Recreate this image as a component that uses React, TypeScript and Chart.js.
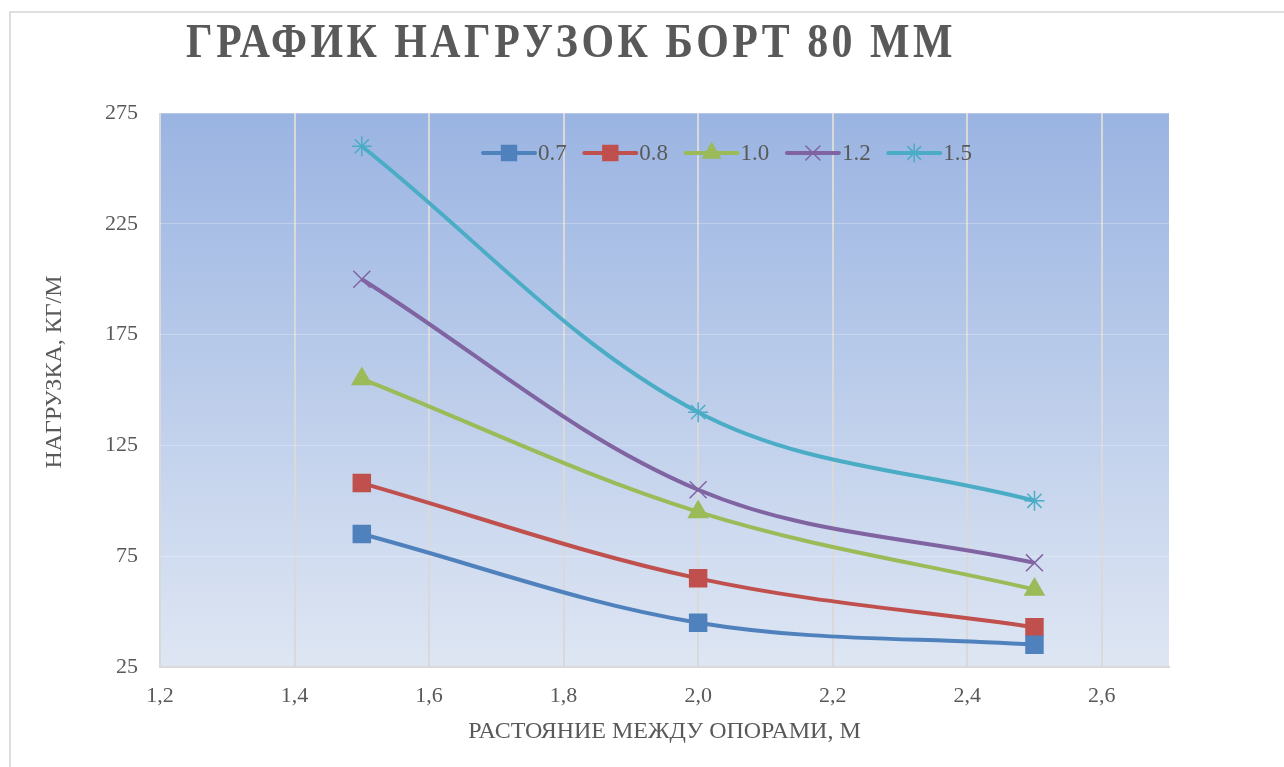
import React, { useEffect, useRef } from 'react';
import { Chart, registerables } from 'chart.js';
import { drawPoint } from 'chart.js/helpers';

Chart.register(...registerables);

// data
const distances = [1.5, 2.0, 2.5];
const seriesLabels = ['0.7', '0.8', '1.0', '1.2', '1.5'];
const load07 = [85, 45, 35];
const load08 = [108, 65, 43];
const load10 = [155, 95, 60];
const load12 = [200, 105, 72];
const load15 = [260, 140, 100];
const xTicks = [1.2, 1.4, 1.6, 1.8, 2.0, 2.2, 2.4, 2.6];
const yTicks = [25, 75, 125, 175, 225, 275];

const TITLE = 'ГРАФИК НАГРУЗОК БОРТ 80 ММ';
const X_TITLE = 'РАСТОЯНИЕ МЕЖДУ ОПОРАМИ, М';
const Y_TITLE = 'НАГРУЗКА, КГ/М';

const SERIF = "'Liberation Serif', 'Times New Roman', serif";
const TEXT = '#595959';

const seriesStyles = [
  { color: '#4f81bd', pointStyle: 'rect', radius: 12, legendRadius: 10.5 },
  { color: '#c0504d', pointStyle: 'rect', radius: 12, legendRadius: 10.5 },
  { color: '#9bbb59', pointStyle: 'triangle', radius: 11, legendRadius: 10 },
  { color: '#8064a2', pointStyle: 'crossRot', radius: 12, legendRadius: 10 },
  { color: '#4bacc6', pointStyle: 'star', radius: 10, legendRadius: 9 },
];

const toPoints = (ys: number[]) => ys.map((y, i) => ({ x: distances[i], y }));

// gradient fill of the plot area
const plotBackground = {
  id: 'plotBackground',
  beforeDraw(chart: any) {
    const { ctx, chartArea: a } = chart;
    const g = ctx.createLinearGradient(0, a.top, 0, a.bottom);
    g.addColorStop(0, '#9ab4e2');
    g.addColorStop(1, '#dee6f3');
    ctx.save();
    ctx.fillStyle = g;
    ctx.fillRect(a.left, a.top, a.right - a.left, a.bottom - a.top);
    ctx.restore();
  },
};

// chart title and axis titles
const titles = {
  id: 'titles',
  afterDraw(chart: any) {
    const { ctx, chartArea: a } = chart;
    ctx.save();
    ctx.fillStyle = TEXT;

    // main title, condensed and spaced like the original
    ctx.font = `bold 48px ${SERIF}`;
    (ctx as any).letterSpacing = '4px';
    const w = ctx.measureText(TITLE).width;
    const target = 770;
    ctx.translate(186, 57);
    ctx.scale(target / w, 1);
    ctx.textAlign = 'left';
    ctx.textBaseline = 'alphabetic';
    ctx.fillText(TITLE, 0, 0);
    ctx.restore();

    ctx.save();
    ctx.fillStyle = TEXT;
    ctx.font = `24px ${SERIF}`;
    ctx.textAlign = 'center';
    ctx.textBaseline = 'middle';
    ctx.fillText(X_TITLE, (a.left + a.right) / 2, a.bottom + 65);
    ctx.translate(55, 372);
    ctx.rotate(-Math.PI / 2);
    ctx.fillText(Y_TITLE, 0, 0);
    ctx.restore();
  },
};

// legend drawn inside the plot: short line with the marker in the middle
const insideLegend = {
  id: 'insideLegend',
  afterDatasetsDraw(chart: any) {
    const { ctx, chartArea: a } = chart;
    const startX = a.left + 323;
    const y = a.top + 40;
    const step = 101.3;
    ctx.save();
    chart.data.datasets.forEach((ds: any, i: number) => {
      const st = seriesStyles[i];
      const x0 = startX + i * step;
      ctx.strokeStyle = st.color;
      ctx.lineWidth = 4;
      ctx.lineCap = 'round';
      ctx.beginPath();
      ctx.moveTo(x0, y);
      ctx.lineTo(x0 + 52, y);
      ctx.stroke();
      ctx.fillStyle = st.color;
      ctx.lineWidth = 1.5;
      drawPoint(ctx, { pointStyle: st.pointStyle as any, radius: st.legendRadius, rotation: 0, borderWidth: 1.5 }, x0 + 26, y);
      ctx.fillStyle = TEXT;
      ctx.font = `23px ${SERIF}`;
      ctx.textAlign = 'left';
      ctx.textBaseline = 'middle';
      ctx.fillText(ds.label, x0 + 55, y + 1);
    });
    ctx.restore();
  },
};

const App: React.FC = () => {
  const canvasRef = useRef<HTMLCanvasElement | null>(null);

  useEffect(() => {
    if (!canvasRef.current) return;
    const series = [load07, load08, load10, load12, load15];

    const chart = new Chart(canvasRef.current, {
      type: 'line',
      data: {
        datasets: series.map((ys, i) => ({
          label: seriesLabels[i],
          data: toPoints(ys),
          borderColor: seriesStyles[i].color,
          backgroundColor: seriesStyles[i].color,
          borderWidth: 4,
          tension: 0.35,
          pointStyle: seriesStyles[i].pointStyle as any,
          pointRadius: seriesStyles[i].radius,
          pointBorderWidth: 1.5,
          pointBorderColor: seriesStyles[i].color,
          pointBackgroundColor: seriesStyles[i].color,
          fill: false,
        })),
      },
      options: {
        animation: false,
        responsive: true,
        maintainAspectRatio: false,
        layout: { padding: { left: 0, top: 113, right: 115, bottom: 0 } },
        plugins: {
          legend: { display: false },
          title: { display: false },
          tooltip: { enabled: false },
        },
        scales: {
          x: {
            type: 'linear',
            min: 1.2,
            max: 2.7,
            afterBuildTicks: (s: any) => {
              s.ticks = xTicks.map((v) => ({ value: v }));
            },
            afterFit: (s: any) => {
              s.height = 100;
            },
            grid: { color: '#d9d9d9', lineWidth: 2, drawTicks: false },
            border: { color: '#d9d9d9', width: 2 },
            ticks: {
              padding: 16,
              color: TEXT,
              font: { family: SERIF, size: 22 },
              callback: (v: any) => Number(v).toFixed(1).replace('.', ','),
            },
          },
          y: {
            type: 'linear',
            min: 25,
            max: 275,
            afterBuildTicks: (s: any) => {
              s.ticks = yTicks.map((v) => ({ value: v }));
            },
            afterFit: (s: any) => {
              s.width = 160;
            },
            grid: { color: 'rgba(255,255,255,0.25)', lineWidth: 1, drawTicks: false },
            border: { display: false },
            ticks: {
              padding: 22,
              color: TEXT,
              font: { family: SERIF, size: 22 },
            },
          },
        },
      },
      plugins: [plotBackground, insideLegend, titles],
    });

    return () => {
      chart.destroy();
    };
  }, []);

  return (
    <div style={{ position: 'fixed', left: 0, top: 0, width: 1284, height: 767, background: '#fff', overflow: 'hidden' }}>
      <div
        style={{
          position: 'absolute',
          left: 9,
          top: 11,
          width: 1300,
          height: 800,
          border: '2px solid #dedede',
        }}
      />
      <div style={{ position: 'absolute', left: 0, top: 0, width: 1284, height: 767 }}>
        <canvas ref={canvasRef} />
      </div>
    </div>
  );
};

export default App;
